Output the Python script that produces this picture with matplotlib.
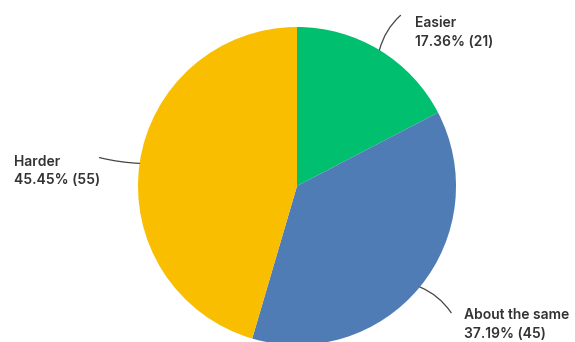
import numpy as np
import matplotlib
matplotlib.use("Agg")
import matplotlib.pyplot as plt

categories = ["Easier", "About the same", "Harder"]
counts = [21, 45, 55]
percents = [17.36, 37.19, 45.45]
colors = ["#00BF6F", "#507CB6", "#F9BE00"]

W, H = 575, 342
fig = plt.figure(figsize=(W / 100, H / 100), dpi=100)
ax = fig.add_axes([0, 0, 1, 1])

cx, cy, R = 297, H - 186, 159
wedges, _ = ax.pie(counts, colors=colors, startangle=90, counterclock=False,
                   center=(cx, cy), radius=R, frame=True,
                   wedgeprops=dict(linewidth=0))
ax.set_xlim(0, W)
ax.set_ylim(0, H)
ax.set_aspect("equal")
ax.axis("off")

# label text anchors (left x, first-line baseline y in pixels from top)
text_pos = [(415, 27), (464, 319), (14, 166)]
rads = [0.15, 0.15, 0.05]
for w, cat, cnt, pct, (tx, ty), rad in zip(wedges, categories, counts, percents, text_pos, rads):
    ang = np.deg2rad((w.theta1 + w.theta2) / 2)
    x0, y0 = cx + R * np.cos(ang), cy + R * np.sin(ang)
    x1, y1 = cx + 1.255 * R * np.cos(ang), cy + 1.255 * R * np.sin(ang)
    ax.annotate("", xy=(x0, y0), xytext=(x1, y1),
                arrowprops=dict(arrowstyle="-", color="#444444", lw=0.9,
                                connectionstyle=f"arc3,rad={rad}", shrinkA=0, shrinkB=0))
    ax.text(tx, H - ty, cat, fontsize=10, fontweight="semibold", family="Inter",
            color="#333333", ha="left", va="baseline")
    ax.text(tx, H - ty - 18.5, f"{pct:.2f}% ({cnt})", fontsize=10, fontweight="semibold",
            family="Inter", color="#333333", ha="left", va="baseline")

fig.savefig("out.png", dpi=100)
